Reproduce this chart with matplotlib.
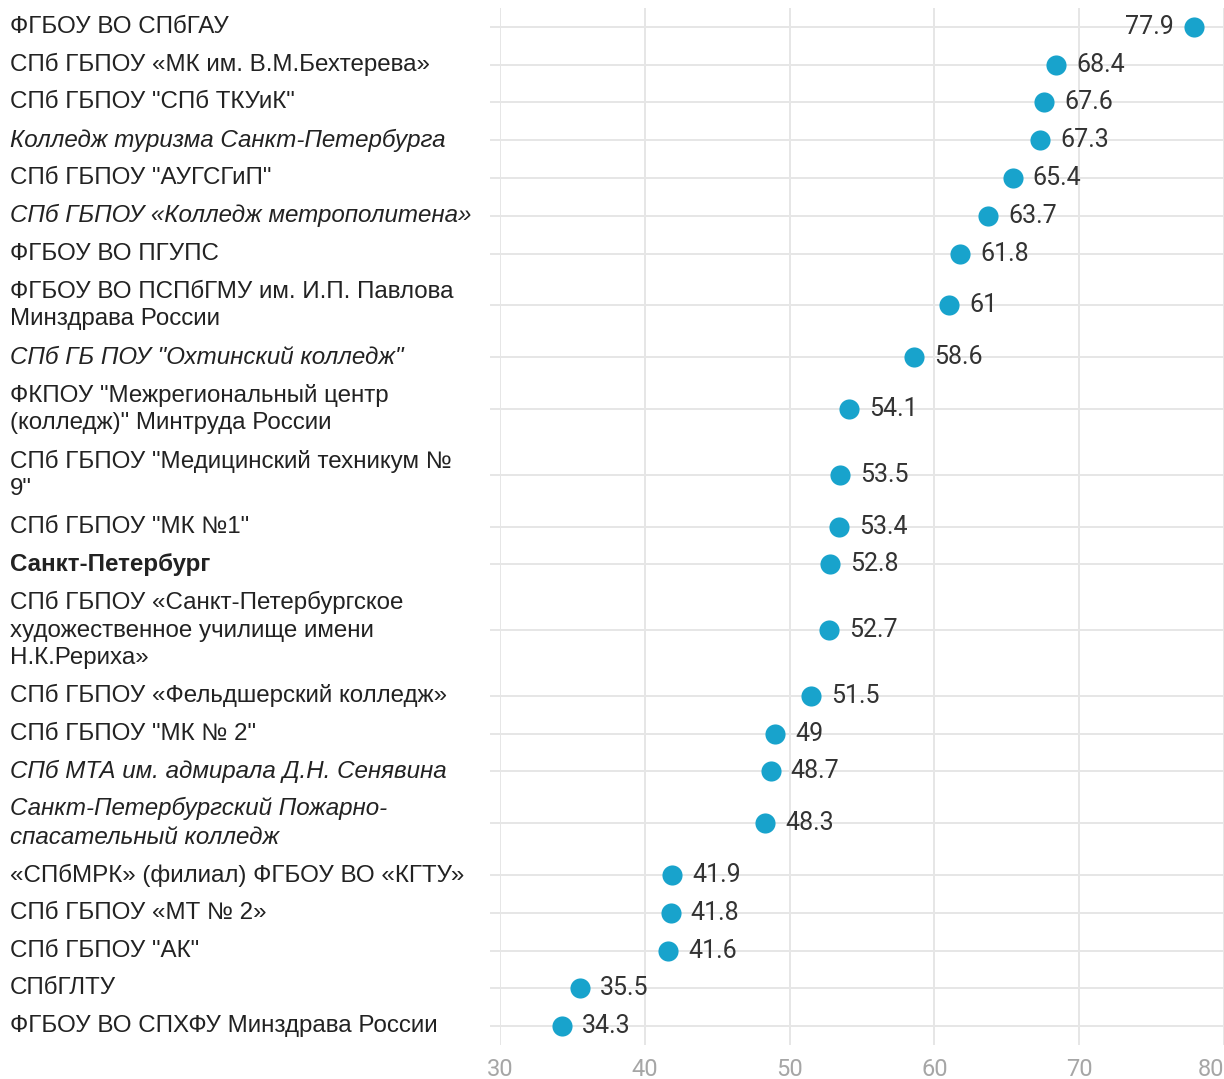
import matplotlib
matplotlib.use('Agg')
import matplotlib.pyplot as plt
import matplotlib.transforms as mtrans
import numpy as np

# chart data
names = [
    'ФГБОУ ВО СПбГАУ',
    'СПб ГБПОУ «МК им. В.М.Бехтерева»',
    'СПб ГБПОУ "СПб ТКУиК"',
    'Колледж туризма Санкт-Петербурга',
    'СПб ГБПОУ "АУГСГиП"',
    'СПб ГБПОУ «Колледж метрополитена»',
    'ФГБОУ ВО ПГУПС',
    'ФГБОУ ВО ПСПбГМУ им. И.П. Павлова\nМинздрава России',
    'СПб ГБ ПОУ "Охтинский колледж"',
    'ФКПОУ "Межрегиональный центр\n(колледж)" Минтруда России',
    'СПб ГБПОУ "Медицинский техникум №\n9"',
    'СПб ГБПОУ "МК №1"',
    'Санкт-Петербург',
    'СПб ГБПОУ «Санкт-Петербургское\nхудожественное училище имени\nН.К.Рериха»',
    'СПб ГБПОУ «Фельдшерский колледж»',
    'СПб ГБПОУ "МК № 2"',
    'СПб МТА им. адмирала Д.Н. Сенявина',
    'Санкт-Петербургский Пожарно-\nспасательный колледж',
    '«СПбМРК» (филиал) ФГБОУ ВО «КГТУ»',
    'СПб ГБПОУ «МТ № 2»',
    'СПб ГБПОУ "АК"',
    'СПбГЛТУ',
    'ФГБОУ ВО СПХФУ Минздрава России',
]
values = [77.9, 68.4, 67.6, 67.3, 65.4, 63.7, 61.8, 61, 58.6, 54.1, 53.5, 53.4,
          52.8, 52.7, 51.5, 49, 48.7, 48.3, 41.9, 41.8, 41.6, 35.5, 34.3]
value_text = ['77.9', '68.4', '67.6', '67.3', '65.4', '63.7', '61.8', '61', '58.6',
              '54.1', '53.5', '53.4', '52.8', '52.7', '51.5', '49', '48.7', '48.3',
              '41.9', '41.8', '41.6', '35.5', '34.3']
italic_rows = [3, 5, 8, 16, 17]
bold_rows = [12]
xticks = [30, 40, 50, 60, 70, 80]

W, H = 1224, 1079
fig = plt.figure(figsize=(W / 100, H / 100), dpi=100)
ax = fig.add_axes([500 / W, (H - 1045) / H, 1 - 500 / W, (1045 - 8) / H])

# row heights depend on how many lines the label has
base, line_h = 9.8, 28.0
heights = [base + line_h * (n.count('\n') + 1) for n in names]
edges = np.concatenate([[0], np.cumsum(heights)])
ypos = (edges[:-1] + edges[1:]) / 2

grid_c = '#e6e6e6'
dot_c = '#18a3cc'

ax.set_xlim(30, 80)
ax.set_ylim(edges[-1], 0)
ax.set_xticks(xticks)
ax.set_yticks(ypos)
ax.set_yticklabels([])
ax.grid(axis='x', color=grid_c, linewidth=1.4)
ax.set_axisbelow(True)
for y in ypos:
    ax.axhline(y, color=grid_c, linewidth=1.4, zorder=0)
ax.tick_params(axis='y', length=7.5, width=1.4, color=grid_c)
ax.tick_params(axis='x', length=0, pad=9, labelsize=17, labelcolor='#a6a6a6')
for lab in ax.get_xticklabels():
    lab.set_fontfamily('Roboto')
ax.get_xticklabels()[-1].set_horizontalalignment('right')
for s in ax.spines.values():
    s.set_visible(False)

ax.scatter(values, ypos, s=210, color=dot_c, zorder=3, linewidths=0)

off = mtrans.offset_copy
for i, (v, y) in enumerate(zip(values, ypos)):
    if v == max(values):
        tr = off(ax.transData, fig=fig, x=-20, y=0, units='dots')
        ha = 'right'
    else:
        tr = off(ax.transData, fig=fig, x=20, y=0, units='dots')
        ha = 'left'
    ax.text(v, y, value_text[i], transform=tr, ha=ha, va='center',
            fontsize=18, color='#333333', family='Roboto')

tr_lab = mtrans.blended_transform_factory(fig.transFigure, ax.transData)
for i, (n, y) in enumerate(zip(names, ypos)):
    style = 'italic' if i in italic_rows else 'normal'
    weight = 'bold' if i in bold_rows else 'normal'
    ax.text(10 / W, y, n, transform=tr_lab, ha='left', va='center',
            fontsize=17.4, color='#222222', family='Liberation Sans',
            style=style, weight=weight, linespacing=1.32)

fig.savefig('out.png', dpi=100)
